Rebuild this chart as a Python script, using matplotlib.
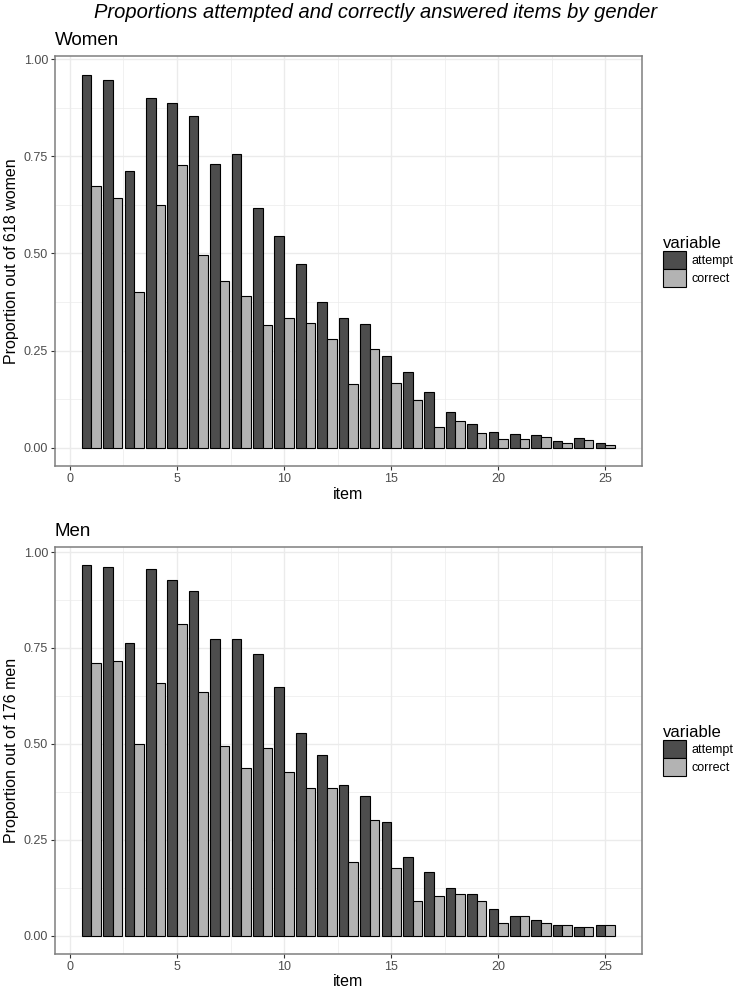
import numpy as np
import matplotlib
matplotlib.use("Agg")
import matplotlib.pyplot as plt
from matplotlib.patches import Patch
from matplotlib.ticker import MultipleLocator

plt.rcParams['font.family'] = ['Liberation Sans', 'DejaVu Sans']

# Datos
items = np.arange(1, 26)

women_attempt = [0.960, 0.946, 0.712, 0.900, 0.888, 0.853, 0.731, 0.755, 0.616, 0.544,
                 0.472, 0.376, 0.335, 0.319, 0.237, 0.195, 0.144, 0.091, 0.060, 0.041,
                 0.034, 0.033, 0.017, 0.025, 0.012]
women_correct = [0.674, 0.642, 0.401, 0.624, 0.727, 0.495, 0.428, 0.390, 0.316, 0.334,
                 0.320, 0.280, 0.163, 0.254, 0.166, 0.122, 0.052, 0.069, 0.038, 0.023,
                 0.023, 0.028, 0.011, 0.020, 0.007]

men_attempt = [0.966, 0.960, 0.762, 0.955, 0.926, 0.898, 0.773, 0.773, 0.733, 0.648,
               0.528, 0.472, 0.392, 0.363, 0.295, 0.205, 0.165, 0.125, 0.108, 0.068,
               0.051, 0.040, 0.028, 0.023, 0.028]
men_correct = [0.710, 0.716, 0.500, 0.659, 0.812, 0.636, 0.494, 0.438, 0.489, 0.426,
               0.386, 0.386, 0.193, 0.301, 0.176, 0.091, 0.102, 0.108, 0.091, 0.034,
               0.051, 0.034, 0.028, 0.023, 0.028]

panels = [("Women", "Proportion out of 618 women", women_attempt, women_correct),
          ("Men", "Proportion out of 176 men", men_attempt, men_correct)]

col_attempt = "#4d4d4d"
col_correct = "#b3b3b3"
border = "#7f7f7f"
grid_col = "#ebebeb"

fig = plt.figure(figsize=(7.45, 9.93), dpi=100)

# posiciones de los paneles (fraccion de figura)
left, width = 0.0738, 0.7875
boxes = [(0.5304, 0.4130), (0.0393, 0.4102)]

for (titulo, ylab, att, cor), (b, h) in zip(panels, boxes):
    ax = fig.add_axes([left, b, width, h])
    w = 0.45
    ax.bar(items - w / 2, att, width=w, color=col_attempt, edgecolor="black",
           linewidth=0.8, zorder=3)
    ax.bar(items + w / 2, cor, width=w, color=col_correct, edgecolor="black",
           linewidth=0.8, zorder=3)

    top = max(max(att), max(cor)) + 0.048
    ax.set_ylim(-0.048, top)
    ax.set_xlim(-0.7, 26.7)

    ax.xaxis.set_major_locator(MultipleLocator(5))
    ax.xaxis.set_minor_locator(MultipleLocator(2.5))
    ax.yaxis.set_major_locator(MultipleLocator(0.25))
    ax.yaxis.set_minor_locator(MultipleLocator(0.125))
    ax.set_yticks([0, 0.25, 0.5, 0.75, 1.0])
    ax.set_yticklabels(["0.00", "0.25", "0.50", "0.75", "1.00"])

    ax.grid(True, which="major", color=grid_col, linewidth=1.0, zorder=0)
    ax.grid(True, which="minor", color=grid_col, linewidth=0.5, zorder=0)
    ax.set_axisbelow(True)

    for s in ax.spines.values():
        s.set_color(border)
        s.set_linewidth(1.1)

    ax.tick_params(which="major", length=3, width=0.8, color="#333333",
                   labelsize=9, labelcolor="#4d4d4d", pad=2)
    ax.tick_params(which="minor", length=0)

    ax.set_xlabel("item", fontsize=11.5, labelpad=1)
    ax.set_ylabel(ylab, fontsize=11.5, labelpad=3)
    ax.set_title(titulo, loc="left", fontsize=13.5, pad=8)

    handles = [Patch(facecolor=col_attempt, edgecolor="black", linewidth=0.8, label="attempt"),
               Patch(facecolor=col_correct, edgecolor="black", linewidth=0.8, label="correct")]
    leg = ax.legend(handles=handles, title="variable", loc="center left",
                    bbox_to_anchor=(1.025, 0.5), frameon=False, fontsize=9,
                    title_fontsize=12, handlelength=1.85, handleheight=1.85,
                    labelspacing=0.0, handletextpad=0.5, borderpad=0)
    leg._legend_box.align = "left"

fig.text(376 / 745, 1 - 12 / 993, "Proportions attempted and correctly answered items by gender",
         ha="center", va="center", fontsize=14.5, style="italic")

plt.savefig("out.png", dpi=100)
